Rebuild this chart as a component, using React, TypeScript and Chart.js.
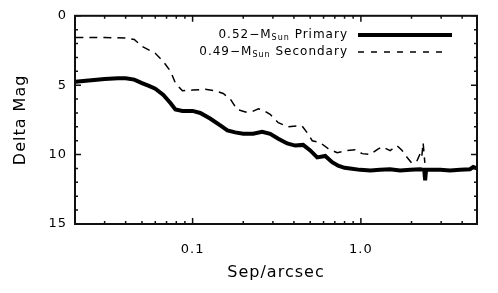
import React, { useEffect, useRef } from 'react';
import { Chart, registerables } from 'chart.js';

Chart.register(...registerables);

// ---- Data ----
const primarySep = [
  0.0201, 0.025, 0.030, 0.036, 0.040, 0.045, 0.050, 0.055, 0.060, 0.067, 0.074, 0.079,
  0.087, 0.100, 0.111, 0.127, 0.146, 0.161, 0.179, 0.200, 0.229, 0.259, 0.289,
  0.323, 0.365, 0.407, 0.454, 0.500, 0.550, 0.614, 0.675, 0.733, 0.800, 0.864,
  0.99, 1.14, 1.30, 1.49, 1.71, 1.97, 2.25, 2.38, 2.41, 2.44, 2.96, 3.39, 3.89,
  4.45, 4.65, 4.9,
];
const primaryMag = [
  4.75, 4.65, 4.55, 4.5, 4.5, 4.6, 4.85, 5.05, 5.25, 5.7, 6.3, 6.75,
  6.85, 6.85, 7.0, 7.4, 7.9, 8.25, 8.4, 8.5, 8.5, 8.35, 8.5,
  8.85, 9.2, 9.35, 9.3, 9.7, 10.2, 10.1, 10.55, 10.8, 10.95, 11.0,
  11.1, 11.15, 11.1, 11.05, 11.15, 11.1, 11.05, 11.1, 11.85, 11.1, 11.1, 11.15, 11.1,
  11.05, 10.9, 11.0,
];

const secondarySep = [
  0.0201, 0.030, 0.040, 0.045, 0.050, 0.060, 0.067, 0.074, 0.079, 0.087, 0.100,
  0.119, 0.136, 0.152, 0.1675, 0.184, 0.206, 0.226, 0.246, 0.263, 0.289, 0.323,
  0.370, 0.418, 0.448, 0.480, 0.514, 0.573, 0.639, 0.723, 0.829, 0.925, 1.018,
  1.136, 1.25, 1.338, 1.493, 1.643, 1.759, 1.884, 2.017, 2.16, 2.25, 2.30, 2.344, 2.40,
];
const secondaryMag = [
  1.57, 1.57, 1.6, 1.7, 2.2, 2.7, 3.3, 4.0, 4.85, 5.4, 5.35,
  5.3, 5.4, 5.6, 6.0, 6.75, 6.93, 6.9, 6.7, 6.8, 7.1, 7.7,
  8.0, 7.93, 7.95, 8.43, 9.0, 9.14, 9.57, 9.86, 9.71, 9.65, 9.93,
  10.0, 9.64, 9.43, 9.71, 9.36, 9.71, 10.21, 10.64, 10.43, 9.93, 10.2, 9.14, 10.6,
];

const xMin = 0.02;
const xMax = 4.9;
const yMin = 0;
const yMax = 15;
const yLabelValues = [0, 5, 10, 15];
const xLabelValues = [0.1, 1];
const xLabelTexts = ['0.1', '1.0'];
const xMajorTicks = [0.1, 1];
const xMinorTicks = [
  0.02, 0.03, 0.04, 0.05, 0.06, 0.07, 0.08, 0.09,
  0.2, 0.3, 0.4, 0.5, 0.6, 0.7, 0.8, 0.9,
  2, 3, 4,
];
const yMajorTicks = [0, 5, 10, 15];
const yMinorTicks = [1, 2, 3, 4, 6, 7, 8, 9, 11, 12, 13, 14];

const legendEntries = [
  { pre: '0.52\u2212M', sub: 'Sun', post: ' Primary', dashed: false },
  { pre: '0.49\u2212M', sub: 'Sun', post: ' Secondary', dashed: true },
];

const FONT = '"DejaVu Sans", sans-serif';
const FRAME_COLOR = '#101010';

const spacingPlugin = {
  id: 'letterSpacing',
  beforeDraw(chart: any) {
    try { chart.ctx.letterSpacing = '1px'; } catch (e) { /* ignore */ }
  },
};

function drawFrame(chart: any) {
  const ctx = chart.ctx as CanvasRenderingContext2D;
  const ca = chart.chartArea;
  const xs = chart.scales.x;
  const ys = chart.scales.y;
  ctx.save();
  ctx.setLineDash([]);
  ctx.globalAlpha = 1;
  ctx.strokeStyle = FRAME_COLOR;
  ctx.lineWidth = 2;
  ctx.strokeRect(ca.left, ca.top, ca.right - ca.left, ca.bottom - ca.top);
  ctx.lineWidth = 1.5;
  ctx.beginPath();
  xMajorTicks.forEach((v) => {
    const x = xs.getPixelForValue(v);
    ctx.moveTo(x, ca.bottom);
    ctx.lineTo(x, ca.bottom - 6);
    ctx.moveTo(x, ca.top);
    ctx.lineTo(x, ca.top + 6);
  });
  xMinorTicks.forEach((v) => {
    const x = xs.getPixelForValue(v);
    ctx.moveTo(x, ca.bottom);
    ctx.lineTo(x, ca.bottom - 3);
    ctx.moveTo(x, ca.top);
    ctx.lineTo(x, ca.top + 3);
  });
  yMajorTicks.forEach((v) => {
    const y = ys.getPixelForValue(v);
    ctx.moveTo(ca.left, y);
    ctx.lineTo(ca.left + 6, y);
    ctx.moveTo(ca.right, y);
    ctx.lineTo(ca.right - 6, y);
  });
  yMinorTicks.forEach((v) => {
    const y = ys.getPixelForValue(v);
    ctx.moveTo(ca.left, y);
    ctx.lineTo(ca.left + 3, y);
    ctx.moveTo(ca.right, y);
    ctx.lineTo(ca.right - 3, y);
  });
  ctx.stroke();
  ctx.restore();
}

function drawLegend(chart: any) {
  const ctx = chart.ctx as CanvasRenderingContext2D;
  const textRight = 348;
  const lineStart = 358;
  const lineEnd = 452;
  const rowsY = [35, 52];
  const mainFont = `12px ${FONT}`;
  const subFont = `8px ${FONT}`;
  ctx.save();
  try { (ctx as any).letterSpacing = '1px'; } catch (e) { /* ignore */ }
  ctx.fillStyle = '#000';
  ctx.strokeStyle = '#000';
  legendEntries.forEach((entry, i) => {
    const y = rowsY[i];
    ctx.font = mainFont;
    const w1 = ctx.measureText(entry.pre).width;
    const w3 = ctx.measureText(entry.post).width;
    ctx.font = subFont;
    const w2 = ctx.measureText(entry.sub).width;
    let x = textRight - (w1 + w2 + w3);
    ctx.textBaseline = 'middle';
    ctx.textAlign = 'left';
    ctx.font = mainFont;
    ctx.fillText(entry.pre, x, y);
    x += w1;
    ctx.font = subFont;
    ctx.fillText(entry.sub, x, y + 3);
    x += w2;
    ctx.font = mainFont;
    ctx.fillText(entry.post, x, y);

    ctx.beginPath();
    if (entry.dashed) {
      ctx.lineWidth = 1.5;
      ctx.setLineDash([6, 7]);
    } else {
      ctx.lineWidth = 4;
      ctx.setLineDash([]);
    }
    ctx.moveTo(lineStart, y);
    ctx.lineTo(entry.dashed ? lineEnd - 3 : lineEnd, y);
    ctx.stroke();
    ctx.setLineDash([]);
  });
  ctx.restore();
}

const overlayPlugin = {
  id: 'idlOverlay',
  afterDraw(chart: any) {
    drawLegend(chart);
    drawFrame(chart);
  },
};

export default function App() {
  const canvasRef = useRef<HTMLCanvasElement | null>(null);

  useEffect(() => {
    const canvas = canvasRef.current;
    if (!canvas) return;
    const chart = new Chart(canvas, {
      type: 'line',
      data: {
        datasets: [
          {
            label: 'Primary',
            data: primarySep.map((x, i) => ({ x, y: primaryMag[i] })),
            borderColor: '#000',
            borderWidth: 4,
            pointRadius: 0,
            tension: 0,
          },
          {
            label: 'Secondary',
            data: secondarySep.map((x, i) => ({ x, y: secondaryMag[i] })),
            borderColor: '#000',
            borderWidth: 1.5,
            borderDash: [8, 6],
            pointRadius: 0,
            tension: 0,
          },
        ],
      },
      options: {
        animation: false,
        responsive: false,
        layout: { padding: { left: 0, right: 21, top: 13, bottom: 0 } },
        plugins: {
          legend: { display: false },
          tooltip: { enabled: false },
        },
        scales: {
          x: {
            type: 'logarithmic',
            min: xMin,
            max: xMax,
            grid: { display: false, drawTicks: false },
            border: { display: true, color: FRAME_COLOR, width: 2 },
            afterBuildTicks: (scale: any) => {
              scale.ticks = xLabelValues.map((v) => ({ value: v }));
            },
            afterFit: (scale: any) => {
              scale.height = 69;
            },
            ticks: {
              autoSkip: false,
              maxRotation: 0,
              minRotation: 0,
              padding: 18,
              color: '#000',
              font: { family: FONT, size: 13 },
              callback: (value: any) => {
                const idx = xLabelValues.indexOf(Number(value));
                return idx >= 0 ? xLabelTexts[idx] : '';
              },
            },
            title: {
              display: true,
              text: 'Sep/arcsec',
              color: '#000',
              font: { family: FONT, size: 16 },
              padding: { top: 0, bottom: 11 },
            },
          },
          y: {
            type: 'linear',
            reverse: true,
            min: yMin,
            max: yMax,
            grid: { display: false, drawTicks: false },
            border: { display: true, color: FRAME_COLOR, width: 2 },
            afterBuildTicks: (scale: any) => {
              scale.ticks = yLabelValues.map((v) => ({ value: v }));
            },
            afterFit: (scale: any) => {
              scale.width = 75;
            },
            ticks: {
              autoSkip: false,
              padding: 8,
              color: '#000',
              font: { family: FONT, size: 13 },
              callback: (value: any) => String(value),
            },
            title: {
              display: true,
              text: 'Delta Mag',
              color: '#000',
              font: { family: FONT, size: 16 },
              padding: { top: 11, bottom: 0 },
            },
          },
        },
      },
      plugins: [spacingPlugin, overlayPlugin],
    } as any);
    return () => chart.destroy();
  }, []);

  return (
    <div style={{ position: 'absolute', left: 0, top: 0, width: 498, height: 293, background: '#fff' }}>
      <canvas ref={canvasRef} width={498} height={293} style={{ display: 'block' }} />
    </div>
  );
}
